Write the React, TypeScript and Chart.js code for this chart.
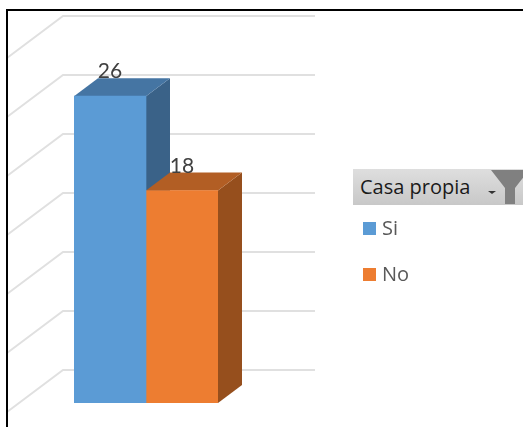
import React, { useEffect, useRef } from "react";
import { Chart, registerables } from "chart.js";

Chart.register(...registerables);

const categories = ["Casa propia"];
const seriesNames = ["Si", "No"];
const siValues = [26];
const noValues = [18];
const gridTicks = [0, 5, 10, 15, 20, 25, 30];
const legendTitle = "Casa propia";

const FRONT = ["#5B9BD5", "#ED7D31"];
const TOP = ["#4575A3", "#B25E24"];
const SIDE = ["#3A6288", "#964F1D"];

const DEPTH_X = 24;
const DEPTH_Y = 18;
const WALL_DX = -11;
const WALL_DY = -33;
const SIDE_DX = 56;
const SIDE_DY = 42;
const WALL_RIGHT = 315;

function poly(ctx: CanvasRenderingContext2D, pts: number[][], fill: string) {
  ctx.beginPath();
  pts.forEach(([x, y], i) => (i ? ctx.lineTo(x, y) : ctx.moveTo(x, y)));
  ctx.closePath();
  ctx.fillStyle = fill;
  ctx.fill();
}

const bar3d = {
  id: "bar3d",
  beforeDatasetsDraw(chart: any) {
    const ctx = chart.ctx as CanvasRenderingContext2D;
    const yScale = chart.scales.y;
    const wallX = chart.chartArea.left + WALL_DX;
    ctx.save();
    ctx.strokeStyle = "#E0E0E0";
    ctx.lineWidth = 2;
    gridTicks.forEach((v) => {
      const y = yScale.getPixelForValue(v) + WALL_DY;
      ctx.beginPath();
      ctx.moveTo(wallX - SIDE_DX, y + SIDE_DY);
      ctx.lineTo(wallX, y);
      ctx.lineTo(WALL_RIGHT, y);
      ctx.stroke();
    });
    chart.data.datasets.forEach((_: any, i: number) => {
      chart.getDatasetMeta(i).data.forEach((el: any) => {
        const l = el.x - el.width / 2;
        const r = el.x + el.width / 2;
        const t = el.y;
        const b = el.base;
        poly(ctx, [[r, t], [r + DEPTH_X, t - DEPTH_Y], [r + DEPTH_X, b - DEPTH_Y], [r, b]], SIDE[i]);
        poly(ctx, [[l, t], [l + DEPTH_X, t - DEPTH_Y], [r + DEPTH_X, t - DEPTH_Y], [r, t]], TOP[i]);
      });
    });
    ctx.restore();
  },
  afterDatasetsDraw(chart: any) {
    const ctx = chart.ctx as CanvasRenderingContext2D;
    ctx.save();
    ctx.font = "21px Lato";
    ctx.fillStyle = "#404040";
    ctx.textAlign = "center";
    ctx.textBaseline = "alphabetic";
    chart.data.datasets.forEach((ds: any, i: number) => {
      chart.getDatasetMeta(i).data.forEach((el: any, j: number) => {
        ctx.fillText(String(ds.data[j]), el.x, el.y - DEPTH_Y);
      });
    });
    ctx.restore();
  },
};

export default function App() {
  const ref = useRef<HTMLCanvasElement>(null);
  useEffect(() => {
    const chart = new Chart(ref.current as HTMLCanvasElement, {
      type: "bar",
      data: {
        labels: categories,
        datasets: [
          { label: seriesNames[0], data: siValues, backgroundColor: FRONT[0], categoryPercentage: 1, barPercentage: 1 },
          { label: seriesNames[1], data: noValues, backgroundColor: FRONT[1], categoryPercentage: 1, barPercentage: 1 },
        ],
      },
      options: {
        responsive: false,
        animation: false,
        layout: { padding: { left: 74, right: 305, top: 49, bottom: 24 } },
        plugins: { legend: { display: false }, tooltip: { enabled: false } },
        scales: {
          x: { display: false },
          y: { display: false, min: 0, max: 30 },
        },
      },
      plugins: [bar3d],
    } as any);
    return () => chart.destroy();
  }, []);

  const legendRows = [
    { top: 217, color: FRONT[0] },
    { top: 263, color: FRONT[1] },
  ];

  return (
    <div style={{ position: "fixed", left: 0, top: 0, width: 523, height: 427, overflow: "hidden", background: "#fff" }}>
      <canvas ref={ref} width={523} height={427} style={{ display: "block" }} />
      <div style={{ position: "absolute", left: 6, top: 9, width: 600, height: 600, border: "2px solid #000", boxSizing: "border-box" }} />
      <div
        style={{
          position: "absolute", left: 353, top: 169, width: 170, height: 36,
          background: "linear-gradient(#DEDEDE, #C8C8C8)",
          overflow: "hidden",
        }}
      >
        <span style={{ position: "absolute", left: 7, top: 5, font: "20px/26px 'Open Sans'", color: "#1A1A1A", whiteSpace: "nowrap" }}>
          {legendTitle}
        </span>
        <svg width={170} height={36} style={{ position: "absolute", left: 0, top: 0 }}>
          <path d="M135 22 h8 l-4 3 z" fill="#333" />
          <path d="M138 1 H176 L162 19 V35 H152 V19 Z" fill="#808080" />
        </svg>
      </div>
      {legendRows.map((r, i) => (
        <div key={seriesNames[i]}>
          <div style={{ position: "absolute", left: 363, top: r.top + 5, width: 13, height: 13, background: r.color }} />
          <span style={{ position: "absolute", left: 382, top: r.top - 2, font: "20px/26px 'Open Sans'", color: "#595959" }}>
            {seriesNames[i]}
          </span>
        </div>
      ))}
    </div>
  );
}
